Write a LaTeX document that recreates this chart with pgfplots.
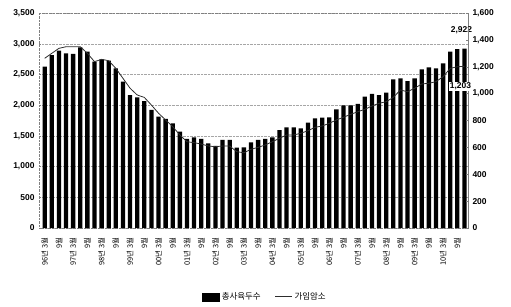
\documentclass[border=0pt]{standalone}
\usepackage{pgfplots}
\pgfplotsset{compat=1.18}
\usepackage{pgfplotstable}
\usepackage{fontspec}
\setmainfont{Liberation Sans}
\newfontfamily\kr{Noto Sans CJK KR}
\pgfplotstableread{
x total sows
0 2626 1263
1 2816 1300
2 2887 1337
3 2844 1349
4 2833 1349
5 2942 1349
6 2870 1300
7 2708 1238
8 2746 1255
9 2724 1245
10 2600 1188
11 2382 1114
12 2165 1040
13 2128 990
14 2067 972
15 1921 915
16 1812 854
17 1775 804
18 1704 754
19 1568 692
20 1449 642
21 1476 635
22 1449 625
23 1379 610
24 1335 605
25 1433 610
26 1433 610
27 1308 568
28 1313 560
29 1395 586
30 1433 600
31 1449 618
32 1476 642
33 1595 668
34 1639 692
35 1639 692
36 1623 705
37 1715 724
38 1786 749
39 1796 759
40 1802 779
41 1932 804
42 1997 824
43 1997 846
44 2019 865
45 2138 883
46 2182 908
47 2165 928
48 2203 940
49 2421 972
50 2437 1027
51 2393 1014
52 2437 1040
53 2584 1072
54 2616 1077
55 2600 1089
56 2681 1126
57 2870 1188
58 2910 1200
59 2922 1203
}\datatable
\begin{document}
\begin{tikzpicture}
\pgfplotsset{
  common/.style={
    width=429bp, height=215bp, scale only axis,
    xmin=-0.8, xmax=59.5, clip=false,
    axis line style={densely dotted, gray},
    tick style={gray, thin},
    major tick length=2bp,
    /pgf/number format/assume math mode=true,
    /pgf/number format/1000 sep={,},
    yticklabel style={font=\bfseries\fontsize{8.5}{9}\selectfont},
  }
}
\begin{axis}[common,
  ymin=0, ymax=3500, ytick={0,500,...,3500},
  ytick pos=left, xtick pos=bottom,
  ymajorgrids, grid style={densely dotted, gray!70},
  xtick={0,2,...,58},
  xticklabels={96년 3월,9월,97년 3월,9월,98년 3월,9월,99년 3월,9월,00년 3월,9월,01년 3월,9월,02년 3월,9월,03년 3월,9월,04년 3월,9월,05년 3월,9월,06년 3월,9월,07년 3월,9월,08년 3월,9월,09년 3월,9월,10년 3월,9월},
  xticklabel style={rotate=90, anchor=east, font=\kr\fontsize{7.5}{8}\selectfont, xshift=-6bp},
  yticklabel style={xshift=-1bp},
]
\addplot[ybar, bar width=4.3bp, fill=black, draw=none] table[x=x, y=total] {\datatable};
\node[anchor=south, font=\bfseries\fontsize{8.5}{9}\selectfont, xshift=-3bp, yshift=14bp, inner sep=1pt] at (axis cs:59,2922) {2,922};
\end{axis}
\begin{axis}[common,
  ymin=0, ymax=1600, ytick={0,200,...,1600},
  axis y line*=right, axis x line=none,
  yticklabel style={xshift=1bp},
  legend style={draw=none, at={(0.527,-0.32)}, anchor=center, legend columns=2,
    font=\kr\fontsize{8.5}{9}\selectfont,
    /tikz/every even column/.append style={column sep=12bp}},
]
\addlegendimage{legend image code/.code={\fill[black] (0bp,-4bp) rectangle (17bp,4bp);}}
\addlegendentry{총사육두수}
\addplot[line width=0.8pt, gray!35!black, mark=none] table[x=x, y=sows] {\datatable};
\addlegendentry{가임암소}
\node[anchor=north, fill=white, font=\bfseries\fontsize{8.5}{9}\selectfont, xshift=-4bp, yshift=-15bp, inner sep=1pt] at (axis cs:59,1203) {1,203};
\end{axis}
\pgfresetboundingbox
\path[use as bounding box] (-39bp,-79bp) rectangle (472bp,228bp);
\end{tikzpicture}
\end{document}
